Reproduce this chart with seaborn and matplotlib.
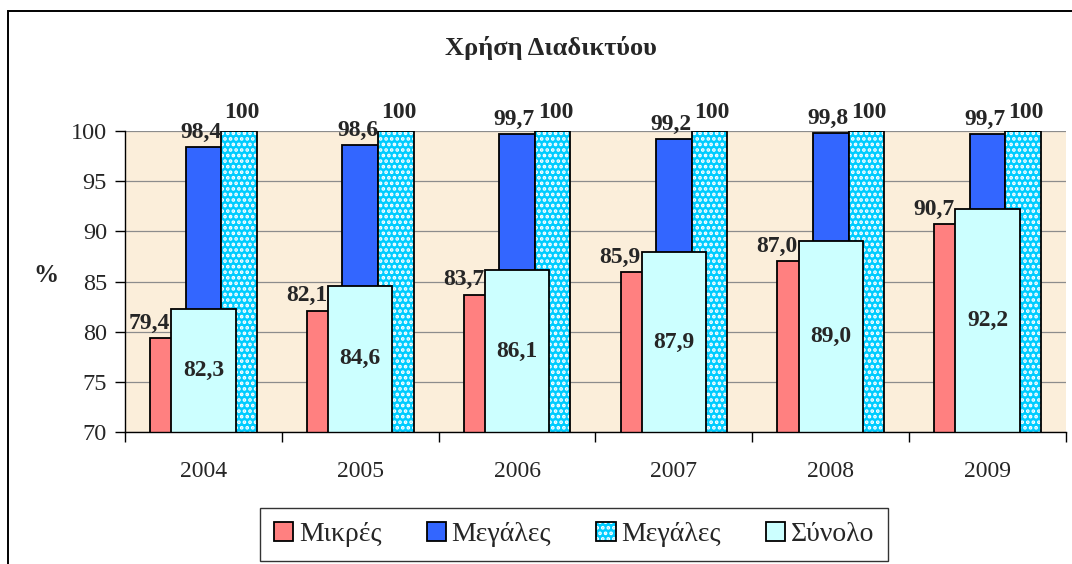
import matplotlib
matplotlib.use("Agg")
import matplotlib.pyplot as plt
import seaborn as sns
import pandas as pd
from matplotlib.patches import Rectangle

# ---- data ----
years = ["2004", "2005", "2006", "2007", "2008", "2009"]
mikres = [79.4, 82.1, 83.7, 85.9, 87.0, 90.7]
megales = [98.4, 98.6, 99.7, 99.2, 99.8, 99.7]
megales_100 = [100, 100, 100, 100, 100, 100]
synolo = [82.3, 84.6, 86.1, 87.9, 89.0, 92.2]
legend_labels = ["Μικρές", "Μεγάλες", "Μεγάλες", "Σύνολο"]
title = "Χρήση Διαδικτύου"
y_ticks = [70, 75, 80, 85, 90, 95, 100]

series_keys = ["Μικρές", "Μεγάλες", "Μεγάλες 100"]
colors = ["#FF8080", "#3366FF", "#00CCFF"]
total_color = "#CCFFFF"

sns.set_theme(style="white")
plt.rcParams["font.family"] = ["Liberation Serif", "DejaVu Serif"]
plt.rcParams["hatch.linewidth"] = 1.8

W, H = 1072, 564
fig = plt.figure(figsize=(W / 100, H / 100), dpi=100)
ax = fig.add_axes([125 / W, 1 - 432 / H, (1066 - 125) / W, (432 - 131) / H])
ax.set_facecolor("#FBEEDA")

df = pd.DataFrame({
    "year": years * 3,
    "value": mikres + megales + megales_100,
    "series": [series_keys[0]] * 6 + [series_keys[1]] * 6 + [series_keys[2]] * 6,
})

sns.barplot(data=df, x="year", y="value", hue="series", hue_order=series_keys,
            palette=colors, width=0.68, edgecolor="black", linewidth=1.3,
            saturation=1, legend=False, ax=ax, zorder=2)
n_cont = len(ax.containers)
for p in ax.containers[2]:
    p.set_hatch("...")
    p._hatch_color = (1, 1, 1, 1)

sns.barplot(x=years, y=synolo, width=0.41, color=total_color, saturation=1,
            edgecolor="black", linewidth=1.3, ax=ax, zorder=3)

ax.set_ylim(70, 100)
ax.set_xlim(-0.5, 5.5)
ax.set_yticks(y_ticks)
ax.yaxis.grid(True, color="#8C8C8C", linewidth=0.9, zorder=0)
ax.set_axisbelow(True)
for s in ["top", "right"]:
    ax.spines[s].set_visible(False)
for s in ["left", "bottom"]:
    ax.spines[s].set_color("black")
    ax.spines[s].set_linewidth(1.0)
    ax.spines[s].set_zorder(5)

ax.tick_params(axis="y", which="major", direction="out", length=7, width=1,
               color="black", pad=6, labelsize=17.5, left=True)
ax.set_xticks([i - 0.5 for i in range(7)])
ax.set_xticklabels([])
ax.set_xticks(range(6), minor=True)
ax.set_xticklabels(years, minor=True, fontsize=17)
ax.tick_params(axis="x", which="major", direction="out", length=7, width=1,
               color="black", bottom=True)
ax.tick_params(axis="x", which="minor", length=0, pad=21)
ax.set_xlabel("")
ax.set_ylabel("")
fig.text(46 / W, 1 - 275 / H, "%", fontsize=18, fontweight="bold",
         ha="center", va="center")

bw = 0.68 / 3

def fmt(v):
    if v == 100:
        return "100"
    return f"{v:.1f}".replace(".", ",")

for i in range(6):
    ax.annotate(fmt(mikres[i]), (i - bw, mikres[i]), xytext=(-13, 3),
                textcoords="offset points", ha="center", va="bottom",
                fontsize=17, fontweight="bold", zorder=6)
    ax.annotate(fmt(megales[i]), (i, megales[i]), xytext=(-2, 3),
                textcoords="offset points", ha="center", va="bottom",
                fontsize=17, fontweight="bold", zorder=6, annotation_clip=False)
    ax.annotate(fmt(megales_100[i]), (i + bw, megales_100[i]), xytext=(2, 6),
                textcoords="offset points", ha="center", va="bottom",
                fontsize=17, fontweight="bold", zorder=6, annotation_clip=False)
    ax.text(i, (70 + synolo[i]) / 2, fmt(synolo[i]), ha="center", va="center",
            fontsize=17, fontweight="bold", zorder=6)

fig.text(551 / W, 1 - 48 / H, title, fontsize=19, fontweight="bold",
         ha="center", va="center")

# outer chart frame
fig.patches.append(Rectangle((8 / W, -0.1), 2, 1.1 - 11 / H, transform=fig.transFigure,
                             fill=False, edgecolor="black", linewidth=1.4))

handles = [ax.containers[0][0], ax.containers[1][0], ax.containers[2][0], ax.containers[n_cont][0]]
leg = fig.legend(handles, legend_labels, loc="center", ncol=4,
                 bbox_to_anchor=(260 / W, 1 - 562 / H, 628 / W, 55 / H), mode="expand",
                 borderaxespad=0, frameon=True, fancybox=False, edgecolor="black",
                 fontsize=20, handlelength=0.7, handleheight=0.7, handletextpad=0.2,
                 columnspacing=1.0, borderpad=0.5)
leg.get_frame().set_linewidth(1.0)

fig.savefig("out.png", dpi=100)
